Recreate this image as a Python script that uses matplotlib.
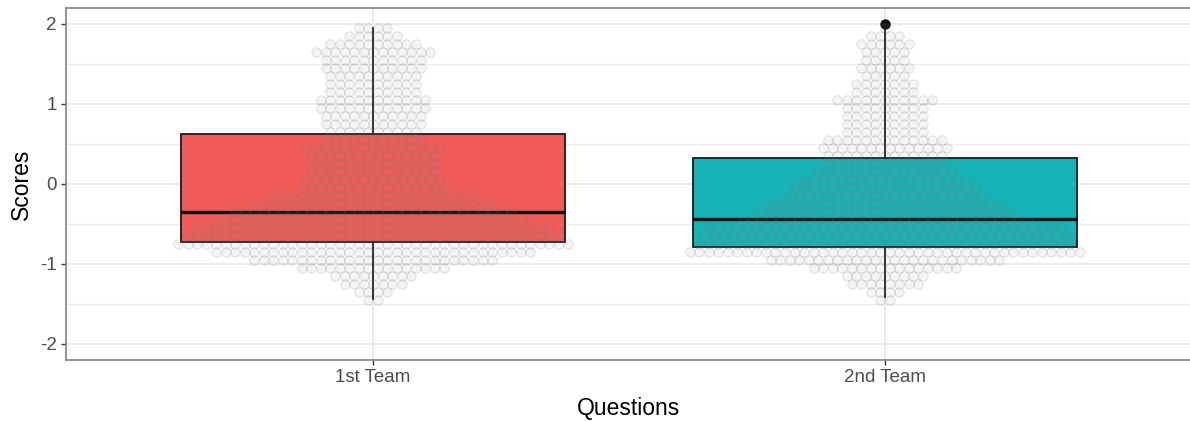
import matplotlib.pyplot as plt
import numpy as np

plt.rcParams["font.family"] = ["Liberation Sans", "DejaVu Sans"]

teams = ["1st Team", "2nd Team"]
box_colors = ["#F15B58", "#16B2B5"]

# box statistics: lower whisker, Q1, median, Q3, upper whisker
team1_stats = [-1.44, -0.73, -0.35, 0.62, 1.95]
team2_stats = [-1.41, -0.79, -0.44, 0.32, 1.93]
team1_outliers = []
team2_outliers = [2.0]

# score levels and how many answers fall on each one
team1_levels = [1.95, 1.85, 1.75, 1.65, 1.55, 1.45, 1.35, 1.25, 1.15, 1.05,
                0.95, 0.85, 0.75, 0.65, 0.55, 0.45, 0.35, 0.25, 0.15, 0.05,
                -0.05, -0.15, -0.25, -0.35, -0.45, -0.55, -0.65, -0.75,
                -0.85, -0.95, -1.05, -1.15, -1.25, -1.35, -1.45]
team1_counts = [4, 6, 10, 13, 11, 11, 10, 10, 10, 12,
                12, 11, 11, 10, 11, 15, 14, 14, 14, 15,
                16, 22, 26, 30, 34, 38, 40, 42,
                34, 26, 16, 9, 7, 4, 2]

team2_levels = [1.95, 1.85, 1.75, 1.65, 1.55, 1.45, 1.35, 1.25, 1.15, 1.05,
                0.95, 0.85, 0.75, 0.65, 0.55, 0.45, 0.35, 0.25, 0.15, 0.05,
                -0.05, -0.15, -0.25, -0.35, -0.45, -0.55, -0.65, -0.75,
                -0.85, -0.95, -1.05, -1.15, -1.25, -1.35, -1.45]
team2_counts = [1, 4, 6, 5, 5, 6, 5, 7, 7, 11,
                9, 9, 9, 9, 13, 14, 13, 13, 15, 18,
                20, 21, 25, 27, 31, 38, 39, 40,
                42, 25, 16, 9, 8, 4, 2]

y_ticks = [-2, -1, 0, 1, 2]
y_tick_labels = ["-2", "-1", "0", "1", "2"]


def swarm_rows(center, levels, counts, spacing):
    """Lay out each score level as a centred row of touching points."""
    xs, ys = [], []
    for level, n in zip(levels, counts):
        offsets = (np.arange(n) - (n - 1) / 2) * spacing
        xs.extend(center + offsets)
        ys.extend([level] * n)
    return np.array(xs), np.array(ys)


fig = plt.figure(figsize=(11.9, 4.21), dpi=100)
ax = fig.add_axes([66 / 1190, 1 - 360 / 421, 1126 / 1190, 352 / 421])

stats = []
for name, s, out in zip(teams, [team1_stats, team2_stats], [team1_outliers, team2_outliers]):
    stats.append({"label": name, "whislo": s[0], "q1": s[1], "med": s[2],
                  "q3": s[3], "whishi": s[4], "fliers": out})

bp = ax.bxp(stats, positions=[1, 2], widths=0.75, patch_artist=True,
            showcaps=False,
            boxprops=dict(edgecolor="#1a1a1a", linewidth=1.3),
            medianprops=dict(color="#111111", linewidth=2.4),
            whiskerprops=dict(color="#1a1a1a", linewidth=1.3),
            flierprops=dict(marker="o", markerfacecolor="#111111",
                            markeredgecolor="#111111", markersize=6.5))
for patch, color in zip(bp["boxes"], box_colors):
    patch.set_facecolor(color)
for artist in bp["boxes"] + bp["medians"] + bp["whiskers"] + bp["fliers"]:
    artist.set_zorder(2)

spacing = 9.5 / 511.0
for pos, levels, counts in [(1, team1_levels, team1_counts), (2, team2_levels, team2_counts)]:
    xs, ys = swarm_rows(pos, levels, counts, spacing)
    ax.scatter(xs, ys, s=46, facecolor=(0.55, 0.55, 0.55, 0.09),
               edgecolor=(0.45, 0.45, 0.45, 0.2), linewidth=0.7, zorder=3)

ax.set_xlim(0.4, 2.6)
ax.set_ylim(-2.2, 2.2)
ax.set_xticks([1, 2])
ax.set_xticklabels(teams)
ax.set_yticks(y_ticks)
ax.set_yticklabels(y_tick_labels)
ax.set_yticks([-1.5, -0.5, 0.5, 1.5], minor=True)

ax.set_axisbelow(True)
ax.grid(which="major", color="#EBEBEB", linewidth=1.4)
ax.grid(which="minor", axis="y", color="#EBEBEB", linewidth=0.8)
ax.tick_params(which="major", length=3.5, width=1, color="#333333",
               labelcolor="#4D4D4D", labelsize=13.5, pad=3)
ax.tick_params(which="minor", length=0)

for spine in ax.spines.values():
    spine.set_color("#8a8a8a")
    spine.set_linewidth(1.3)

ax.set_xlabel("Questions", fontsize=16.5, labelpad=8)
ax.set_ylabel("Scores", fontsize=16.5, labelpad=5)

fig.savefig("out.png", dpi=100)
